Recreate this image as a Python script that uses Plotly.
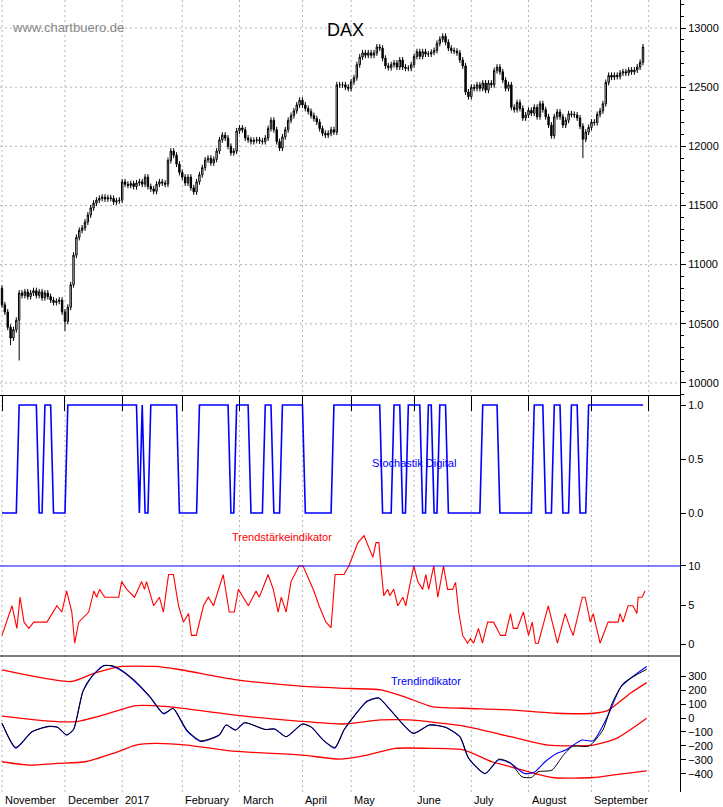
import plotly.graph_objects as go

# ---------------- data ----------------
FIRST_OPEN = 10800
CLOSE = [10660,10600,10470,10380,10450,10530,10760,10740,10770,10730,
         10760,10780,10740,10770,10720,10760,10730,10700,10680,10690,
         10700,10600,10520,10640,10830,11080,11230,11290,11310,11360,
         11420,11480,11520,11545,11560,11570,11555,11565,11560,11530,
         11540,11545,11700,11680,11670,11685,11660,11690,11700,11680,
         11740,11660,11640,11620,11680,11700,11690,11680,11880,11960,
         11925,11850,11780,11740,11690,11740,11650,11615,11700,11760,
         11820,11885,11900,11860,11890,11960,12055,12095,12070,12000,
         11945,11960,12130,12155,12140,12070,12055,12040,12050,12055,
         12045,12040,12070,12150,12220,12140,12040,11985,12080,12140,
         12220,12260,12300,12350,12390,12350,12320,12295,12260,12235,
         12205,12150,12110,12095,12110,12140,12120,12520,12520,12520,
         12500,12490,12545,12580,12690,12755,12790,12770,12790,12770,
         12790,12840,12830,12745,12680,12665,12690,12705,12670,12730,
         12670,12660,12660,12690,12760,12800,12760,12800,12780,12780,
         12795,12810,12870,12905,12930,12880,12830,12810,12805,12790,
         12730,12680,12460,12420,12500,12490,12520,12490,12535,12475,
         12535,12520,12640,12670,12630,12560,12490,12520,12330,12310,
         12370,12320,12240,12265,12305,12280,12330,12250,12360,12310,
         12250,12180,12090,12250,12290,12250,12180,12220,12275,12270,
         12265,12240,12170,12060,12120,12160,12205,12200,12270,12300,
         12360,12540,12600,12585,12600,12590,12620,12630,12620,12645,
         12630,12645,12670,12710,12840]
WICK = 25
LOW_EXTREMES = {6: 10190, 3: 10320, 22: 10440, 203: 11900}

STOCH_START = 0
STOCH_SWITCH_DAYS = [6,13,15,18,23,48,49,50,52,62,69,80,82,87,92,95,98,106,116,
                     133,137,140,142,147,149,151,153,156,168,174,186,190,193,
                     196,199,202,205]

TS_T = [0,3.5,5.2,6.3,7.7,9.4,11.1,15.7,19.2,20.9,22.6,24.4,25.4,26.8,30.3,32.1,
        33.1,34.1,35.9,40.8,41.8,43.6,46.3,48.8,49.8,50.5,53,55,56.4,58.2,59.9,
        61.7,63.4,65.2,66.2,67.9,70.4,72.1,73.9,77.3,79.4,81.2,82.6,86.1,88.8,
        89.9,93,94.8,96.5,97.6,99.3,101,103.8,105.2,109,110.8,113.2,115,116.4,
        119.5,121.2,124.4,126.5,129.6,130.7,131.7,132.4,133.4,134.8,135.5,136.9,
        138.3,140.1,141.1,142.1,143.9,145.3,147,148.1,149.1,150.9,152.3,154.3,
        155.7,157.5,158.5,159.6,161,162.7,163.7,164.8,166.5,167.9,169.7,171.8,
        174.2,175.9,177.7,178.7,180.1,182.2,184,185.3,186.4,187.4,190.9,194.1,
        196.8,198.6,199.6,202.8,203.8,205.6,206.6,209,211.8,215.3,216,217,218.8,
        220.5,221.9,222.3,223.7,224.7]
TS_V = [1.1,4.9,2.0,6.0,2.8,2.0,2.8,2.8,4.9,4.1,6.8,4.1,0.1,2.8,4.1,6.8,
        6.0,7.0,6.0,6.0,8.0,7.0,6.0,8.0,7.0,8.0,4.9,6.0,4.1,8.9,8.9,
        4.9,2.8,3.9,1.1,1.1,4.9,6.0,4.9,8.9,4.1,4.1,7.0,4.9,6.8,
        6.0,8.9,7.0,4.1,6.0,4.1,8.0,10,10,6.8,4.9,2.8,2.1,8.9,
        8.9,10,13,13.9,11.1,13,13,10,6.2,7.0,6.2,7.0,
        4.9,6.0,4.9,6.8,10,8,7,8.9,7,10,6,10,
        7,7,7.9,4.1,1.1,0.1,0.7,0.1,2,0.1,2.8,2.8,
        1.1,1.1,3.9,2,2,4.1,1.1,2.8,0.1,0.1,4.9,0.1,
        3.9,2,1.1,6,6,2.8,3.9,0.1,2.8,2.8,3.9,2.8,4.9,
        4.9,3.9,6,6,6.8]

TI_BLACK_T = [0,4.8,10.5,16.2,19.4,22.6,25,28.3,31.5,35.5,38.8,42,46.8,51.7,56.5,
              59.8,62.2,64.6,69.4,75.9,78.3,81.6,84.8,92,95.3,99.3,105,108.2,112.2,
              116.3,119.5,122.7,127.6,131.6,135.7,143.7,149.4,155,160,163.1,168.8,
              173.6,177.7,181.7,185,187.3,192.2,196.2,199.5,205.1,210,213.2,217.2,225.3]
TI_BLACK_V = [-38,-211,-98,-62,-67,-122,-82,190,298,374,374,341,262,154,34,
              70,-2,-86,-163,-122,-50,-86,-34,-82,-79,-134,-43,-67,-158,
              -211,-86,5,118,142,58,-110,-50,-67,-134,-290,-398,
              -295,-322,-422,-427,-386,-374,-266,-202,-202,-86,106,250,350]
TI_BLUE_T = [0,4.8,10.5,16.2,19.4,22.6,25,28.3,31.5,35.5,38.8,42,46.8,51.7,56.5,
             59.8,62.2,64.6,69.4,75.9,78.3,81.6,84.8,92,95.3,99.3,105,108.2,112.2,
             116.3,119.5,122.7,127.6,131.6,135.7,143.7,149.4,155,160,163.1,168.8,
             173.6,177.7,182.5,186,189.8,193.8,197,202.7,206.7,211.6,216.4,225.3]
TI_BLUE_V = [-38,-216,-98,-60,-67,-122,-82,195,302,376,370,335,255,150,30,
             68,-8,-92,-168,-122,-50,-86,-34,-82,-79,-134,-43,-67,-158,
             -216,-86,5,122,145,58,-110,-50,-67,-134,-290,-400,
             -300,-325,-398,-390,-314,-254,-230,-158,-163,10,226,370]
UP_T = [0,24.2,32.3,42,53.3,61.4,80.8,103.4,117.9,132.4,140.5,150.2,161.5,177.7,193.8,206.7,211.6,219.6,225.3]
UP_V = [346,262,322,370,370,350,278,230,214,202,154,82,70,58,34,34,53,178,254]
MID_T = [0,16.2,25.8,35.5,46.8,58.1,80.8,103.4,119.5,132.4,142.1,161.5,177.7,190.6,206.7,214.8,225.3]
MID_V = [14,-22,-26,22,89,82,22,-22,-43,-14,-14,-58,-134,-194,-194,-146,-2]
LO_T = [0,9.7,19.4,29.1,38.8,46.8,53.3,64.6,80.8,105,117.9,127.6,137.3,150.2,161.5,171.2,177.7,192.2,206.7,213.2,225.3]
LO_V = [-314,-338,-326,-314,-254,-194,-182,-194,-238,-266,-295,-266,-218,-218,-230,-314,-350,-427,-427,-410,-379]

MONTH_START_DAYS = [0,22,42,63,83,105,122,144,164,184,206,226]
MONTH_LABELS = ["November","December","2017","February","March","April","May",
                "June","July","August","September",""]
PRICE_TICKS = [10000,10500,11000,11500,12000,12500,13000]

# ---------------- build ----------------
days = list(range(len(CLOSE)))
opens = [FIRST_OPEN] + CLOSE[:-1]
highs = [max(o, c) + WICK for o, c in zip(opens, CLOSE)]
lows = [min(o, c) - WICK for o, c in zip(opens, CLOSE)]
for d, lv in LOW_EXTREMES.items():
    lows[d] = lv

stoch = []
state = STOCH_START
sw = set(STOCH_SWITCH_DAYS)
for d in days:
    if d in sw:
        state = 1 - state
    stoch.append(state)

FONT = "Liberation Sans, Arial"
GRID = dict(color="#b4b4b4", width=1, dash="2px,3px")
fig = go.Figure()
fig.add_trace(go.Candlestick(x=days, open=opens, high=highs, low=lows, close=CLOSE,
    increasing=dict(line=dict(color="black", width=1), fillcolor="white"),
    decreasing=dict(line=dict(color="black", width=1), fillcolor="black"),
    whiskerwidth=0, yaxis="y", showlegend=False, hoverinfo="skip"))
fig.add_trace(go.Scatter(x=days, y=stoch, mode="lines", line=dict(color="#0000ff", width=1.6),
                         yaxis="y2", showlegend=False))
fig.add_trace(go.Scatter(x=TS_T, y=TS_V, mode="lines", line=dict(color="#ff0000", width=1.1),
                         yaxis="y3", showlegend=False))
for t, v, c, w in [(UP_T, UP_V, "#ff0000", 1.3), (MID_T, MID_V, "#ff0000", 1.3),
                   (LO_T, LO_V, "#ff0000", 1.3), (TI_BLUE_T, TI_BLUE_V, "#0000ff", 1.1),
                   (TI_BLACK_T, TI_BLACK_V, "black", 1.0)]:
    fig.add_trace(go.Scatter(x=t, y=v, mode="lines",
                             line=dict(color=c, width=w, shape="spline", smoothing=0.6),
                             yaxis="y4", showlegend=False))

PH = 792.0
def dom(top_px, bot_px):
    return [(PH - bot_px) / PH, (PH - top_px) / PH]

ax = dict(showgrid=False, zeroline=False, side="right", anchor="x", showline=True,
          linecolor="black", linewidth=1, ticks="outside", ticklen=5, tickcolor="black",
          tickformat="d", fixedrange=True,
          tickfont=dict(family=FONT, size=11, color="black"))
fig.update_layout(
    width=723, height=807, margin=dict(l=0, r=43, t=0, b=15),
    paper_bgcolor="white", plot_bgcolor="rgba(0,0,0,0)",
    xaxis=dict(type="linear", range=[-0.7, 680 / 2.87], showgrid=False, zeroline=False,
               rangeslider=dict(visible=False), tickvals=MONTH_START_DAYS,
               showticklabels=False, ticks="outside", ticklen=15, tickcolor="black",
               showline=True, linecolor="black", linewidth=1),
    yaxis=dict(domain=dom(0, 395), range=[9898, 13237], tickvals=PRICE_TICKS,
               minor=dict(dtick=100, ticks="outside", ticklen=3, tickcolor="black"), **ax),
    yaxis2=dict(domain=dom(395, 565), range=[-0.4815, 1.0926], tickvals=[0, 0.5, 1],
                ticktext=["0.0", "0.5", "1.0"], **ax),
    yaxis3=dict(domain=dom(395, 656), range=[-1.538, 31.92], tickvals=[0, 5, 10], **ax),
    yaxis4=dict(domain=dom(656, 792), range=[-531, 445],
                tickvals=[-400, -300, -200, -100, 0, 100, 200, 300], **ax),
)

shapes = []
for d in MONTH_START_DAYS:
    shapes.append(dict(type="line", xref="x", yref="paper", x0=d, x1=d, y0=0, y1=1,
                       line=GRID, layer="below"))
for p in PRICE_TICKS:
    shapes.append(dict(type="line", xref="paper", yref="y", x0=0, x1=1, y0=p, y1=p,
                       line=GRID, layer="below"))
shapes.append(dict(type="line", xref="paper", yref="y3", x0=0, x1=1, y0=10, y1=10,
                   line=dict(color="#0000ff", width=1.2)))
shapes.append(dict(type="line", xref="paper", yref="paper", x0=0, x1=1,
                   y0=(PH - 656) / PH, y1=(PH - 656) / PH, line=dict(color="black", width=1.2)))
fig.update_layout(shapes=shapes)

ann = []
for d, lab in zip(MONTH_START_DAYS, MONTH_LABELS):
    if lab:
        ann.append(dict(x=d, y=0, xref="x", yref="paper", text=lab, showarrow=False,
                        xanchor="left", yanchor="top", xshift=1, yshift=0,
                        font=dict(family=FONT, size=11, color="black")))
ann += [
    dict(x=10 / 680, y=(PH - 18) / PH, xref="paper", yref="paper", text="www.chartbuero.de",
         showarrow=False, xanchor="left", font=dict(family=FONT, size=13, color="#888888")),
    dict(x=345 / 680, y=(PH - 18) / PH, xref="paper", yref="paper", text="DAX",
         showarrow=False, xanchor="center", font=dict(family=FONT, size=18, color="black")),
    dict(x=414 / 680, y=(PH - 463) / PH, xref="paper", yref="paper", text="Stochastik Digital",
         showarrow=False, xanchor="center", font=dict(family=FONT, size=11, color="#0000ff")),
    dict(x=282 / 680, y=(PH - 545) / PH, xref="paper", yref="paper", text="Trendstärkeindikator",
         showarrow=False, xanchor="center", font=dict(family=FONT, size=11, color="#ff0000")),
    dict(x=426 / 680, y=(PH - 689) / PH, xref="paper", yref="paper", text="Trendindikator",
         showarrow=False, xanchor="center", font=dict(family=FONT, size=11, color="#0000ff")),
]
fig.update_layout(annotations=ann)
fig.write_html("out.html", config={"displayModeBar": False},
               post_script="document.body.style.margin='0px';document.body.style.overflow='hidden';")
